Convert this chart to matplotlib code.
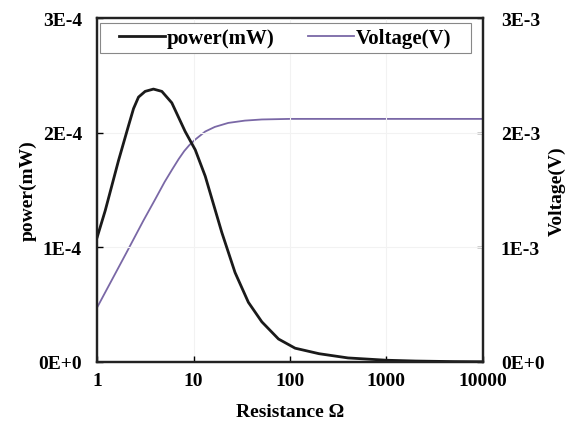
import numpy as np
import matplotlib
matplotlib.use('Agg')
import matplotlib.pyplot as plt
from matplotlib.patches import Rectangle

plt.rcParams['font.family'] = ['Liberation Serif', 'DejaVu Serif']
plt.rcParams['font.weight'] = 'bold'

# values
res_p = [1, 1.21, 1.66, 2.11, 2.38, 2.68, 3.14, 3.83, 4.68, 5.94, 8.17, 10.4, 13.2,
         19.6, 26.9, 37, 51, 76, 113, 200, 400, 1000, 2000, 5000, 10000]
power = [1.09, 1.32, 1.755, 2.06, 2.21, 2.31, 2.36, 2.38, 2.36, 2.26, 2.01, 1.85, 1.62,
         1.13, 0.78, 0.52, 0.35, 0.20, 0.12, 0.072, 0.035, 0.015, 0.008, 0.003, 0.0015]   # x 1E-4

res_v = [1, 2, 3, 4, 5, 6, 7, 8, 9, 10.4, 13.2, 16.6, 22.9, 34, 51, 100, 1000, 10000]
voltage = [0.477, 0.95, 1.23, 1.42, 1.57, 1.68, 1.77, 1.84, 1.89, 1.94, 2.01, 2.05,
           2.085, 2.105, 2.115, 2.12, 2.12, 2.12]  # x 1E-3

x_ticks = [1, 10, 100, 1000, 10000]
x_labels = ['1', '10', '100', '1000', '10000']
p_ticks = [0, 1e-4, 2e-4, 3e-4]
p_labels = ['0E+0', '1E-4', '2E-4', '3E-4']
v_ticks = [0, 1e-3, 2e-3, 3e-3]
v_labels = ['0E+0', '1E-3', '2E-3', '3E-3']

p = np.array(power) * 1e-4
v = np.array(voltage) * 1e-3

fig = plt.figure(figsize=(5.72, 4.27), dpi=100)
ax = fig.add_axes([0.170, 0.150, 0.674, 0.8055])
ax2 = ax.twinx()

l1, = ax.plot(res_p, p, color='#1a1a1a', lw=2.0, label='power(mW)')
l2, = ax2.plot(res_v, v, color='#7a68a6', lw=1.3, label='Voltage(V)')

ax.set_xscale('log')
ax.set_xlim(1, 10000)
ax.set_ylim(0, 3e-4)
ax2.set_ylim(0, 3e-3)
ax.set_xticks(x_ticks)
ax.set_xticklabels(x_labels)
ax.xaxis.set_minor_locator(matplotlib.ticker.NullLocator())
ax.set_yticks(p_ticks)
ax.set_yticklabels(p_labels)
ax2.set_yticks(v_ticks)
ax2.set_yticklabels(v_labels)

ax.grid(True, color='#f2f2f2', lw=0.8)
ax.set_axisbelow(True)

for a in (ax, ax2):
    a.tick_params(direction='in', length=4, width=1, labelsize=14)
    for s in a.spines.values():
        s.set_linewidth(1.6)
        s.set_color('#222222')
ax.tick_params(axis='y', pad=11)
ax.tick_params(axis='x', pad=7)
ax2.tick_params(axis='y', pad=13)

ax.set_xlabel('Resistance Ω', fontsize=14, fontweight='bold', labelpad=10)
ax.set_ylabel('power(mW)', fontsize=14, fontweight='bold', labelpad=1)
ax2.set_ylabel('Voltage(V)', fontsize=14, fontweight='bold', labelpad=3)

# legend box across the top
box = Rectangle((0.008, 0.898), 0.961, 0.087, transform=ax.transAxes, fill=True,
                facecolor='white', edgecolor='#888888', lw=0.8, zorder=4)
ax.add_patch(box)
leg = ax.legend([l1, l2], ['power(mW)', 'Voltage(V)'], ncol=2, loc='center',
                bbox_to_anchor=(0.488, 0.942), frameon=False, fontsize=15,
                handlelength=2.2, handletextpad=0.1, columnspacing=1.6,
                borderaxespad=0, borderpad=0)
leg.set_zorder(5)
ax.set_zorder(ax2.get_zorder() + 1)
ax.patch.set_visible(False)

fig.savefig('out.png', dpi=100)
